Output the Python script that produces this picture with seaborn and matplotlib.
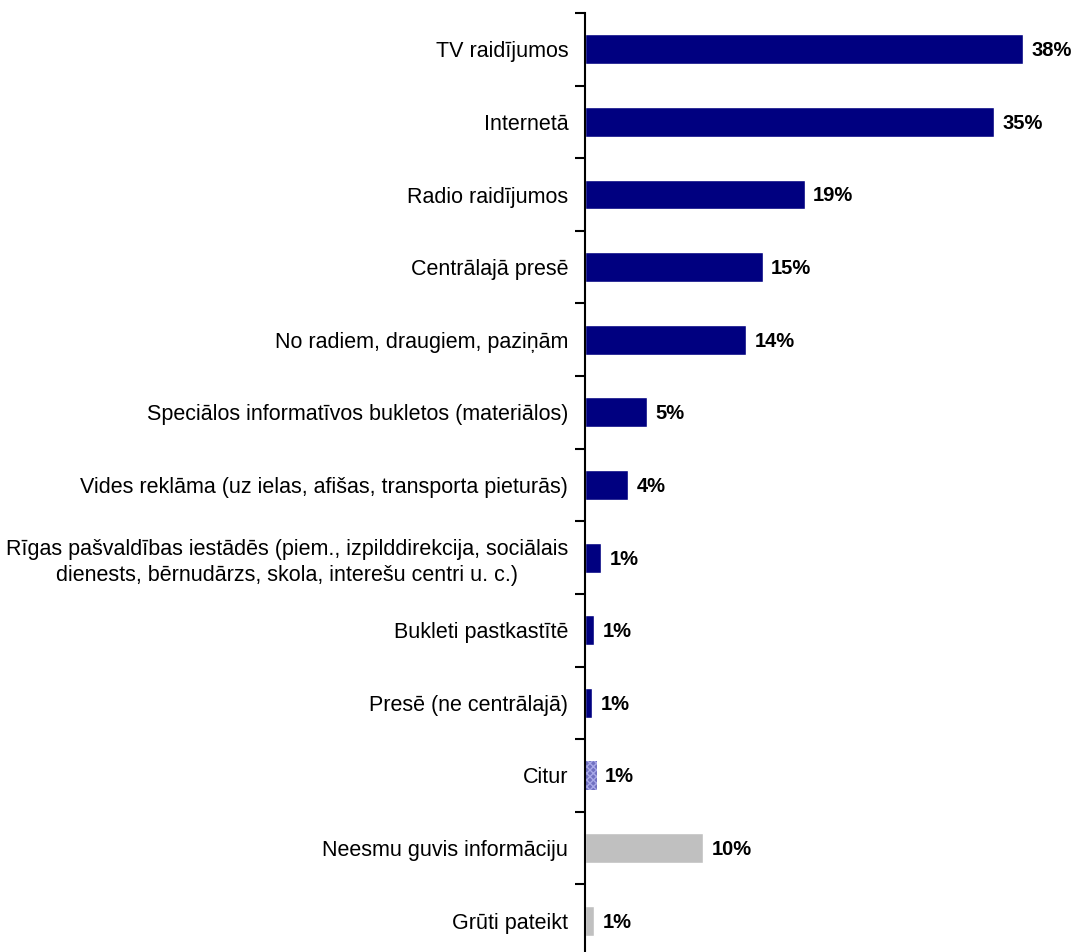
import matplotlib
matplotlib.use("Agg")
import matplotlib.pyplot as plt
import seaborn as sns
import pandas as pd
import numpy as np

categories = [
    "TV raidījumos",
    "Internetā",
    "Radio raidījumos",
    "Centrālajā presē",
    "No radiem, draugiem, paziņām",
    "Speciālos informatīvos bukletos (materiālos)",
    "Vides reklāma (uz ielas, afišas, transporta pieturās)",
    "Rīgas pašvaldības iestādēs (piem., izpilddirekcija, sociālais\ndienests, bērnudārzs, skola, interešu centri u. c.)",
    "Bukleti pastkastītē",
    "Presē (ne centrālajā)",
    "Citur",
    "Neesmu guvis informāciju",
    "Grūti pateikt",
]
values = [37.5, 35.0, 18.8, 15.2, 13.8, 5.3, 3.7, 1.4, 0.8, 0.6, 1.0, 10.1, 0.8]
value_labels = ["38%", "35%", "19%", "15%", "14%", "5%", "4%", "1%", "1%", "1%", "1%", "10%", "1%"]
bar_colors = ["#000080"] * 10 + ["#8080cc", "#c0c0c0", "#c0c0c0"]

sns.set_style("white")
plt.rcParams['font.family'] = ['Liberation Sans', 'DejaVu Sans']
plt.rcParams['text.color'] = 'black'
plt.rcParams['ytick.color'] = 'black'
plt.rcParams['ytick.labelcolor'] = 'black'

fig = plt.figure(figsize=(10.76, 9.52), dpi=100)
ax = fig.add_axes([585/1076, -5/952, 491/1076, (957-13)/952])

df = pd.DataFrame({"cat": categories, "val": values})
sns.barplot(data=df, x="val", y="cat", hue="cat", palette=bar_colors,
            legend=False, width=0.41, ax=ax, saturation=1, orient="h")

for p, c in zip(ax.patches, categories):
    if c == "Citur":
        p.set_hatch("xxxxx")
        p.set_edgecolor("#a8a8e8")
        p.set_linewidth(0)
        p.set_facecolor("#7070c0")

ax.set_xlim(0, 42)
ax.set_ylim(len(categories) - 0.5, -0.5)
ax.set_xlabel("")
ax.set_ylabel("")
ax.set_xticks([])

for s in ["top", "right", "bottom"]:
    ax.spines[s].set_visible(False)
ax.spines["left"].set_linewidth(1.5)
ax.spines["left"].set_color("black")

ax.set_yticks(range(len(categories)))
ax.set_yticklabels(categories, fontsize=15.5, color="black")
ax.tick_params(axis="y", which="major", length=0, pad=12)
ax.set_yticks(np.arange(-0.5, len(categories), 1.0), minor=True)
ax.tick_params(axis="y", which="minor", length=7, width=1.5, color="black", left=True)
for t in ax.get_yticklabels():
    t.set_multialignment("center")
    t.set_linespacing(1.3)

for i, (v, lab) in enumerate(zip(values, value_labels)):
    ax.annotate(lab, xy=(v, i), xytext=(6, -1), textcoords="offset points",
                ha="left", va="center", fontsize=14.5, fontweight="bold", color="black")

fig.savefig("out.png", dpi=100)
